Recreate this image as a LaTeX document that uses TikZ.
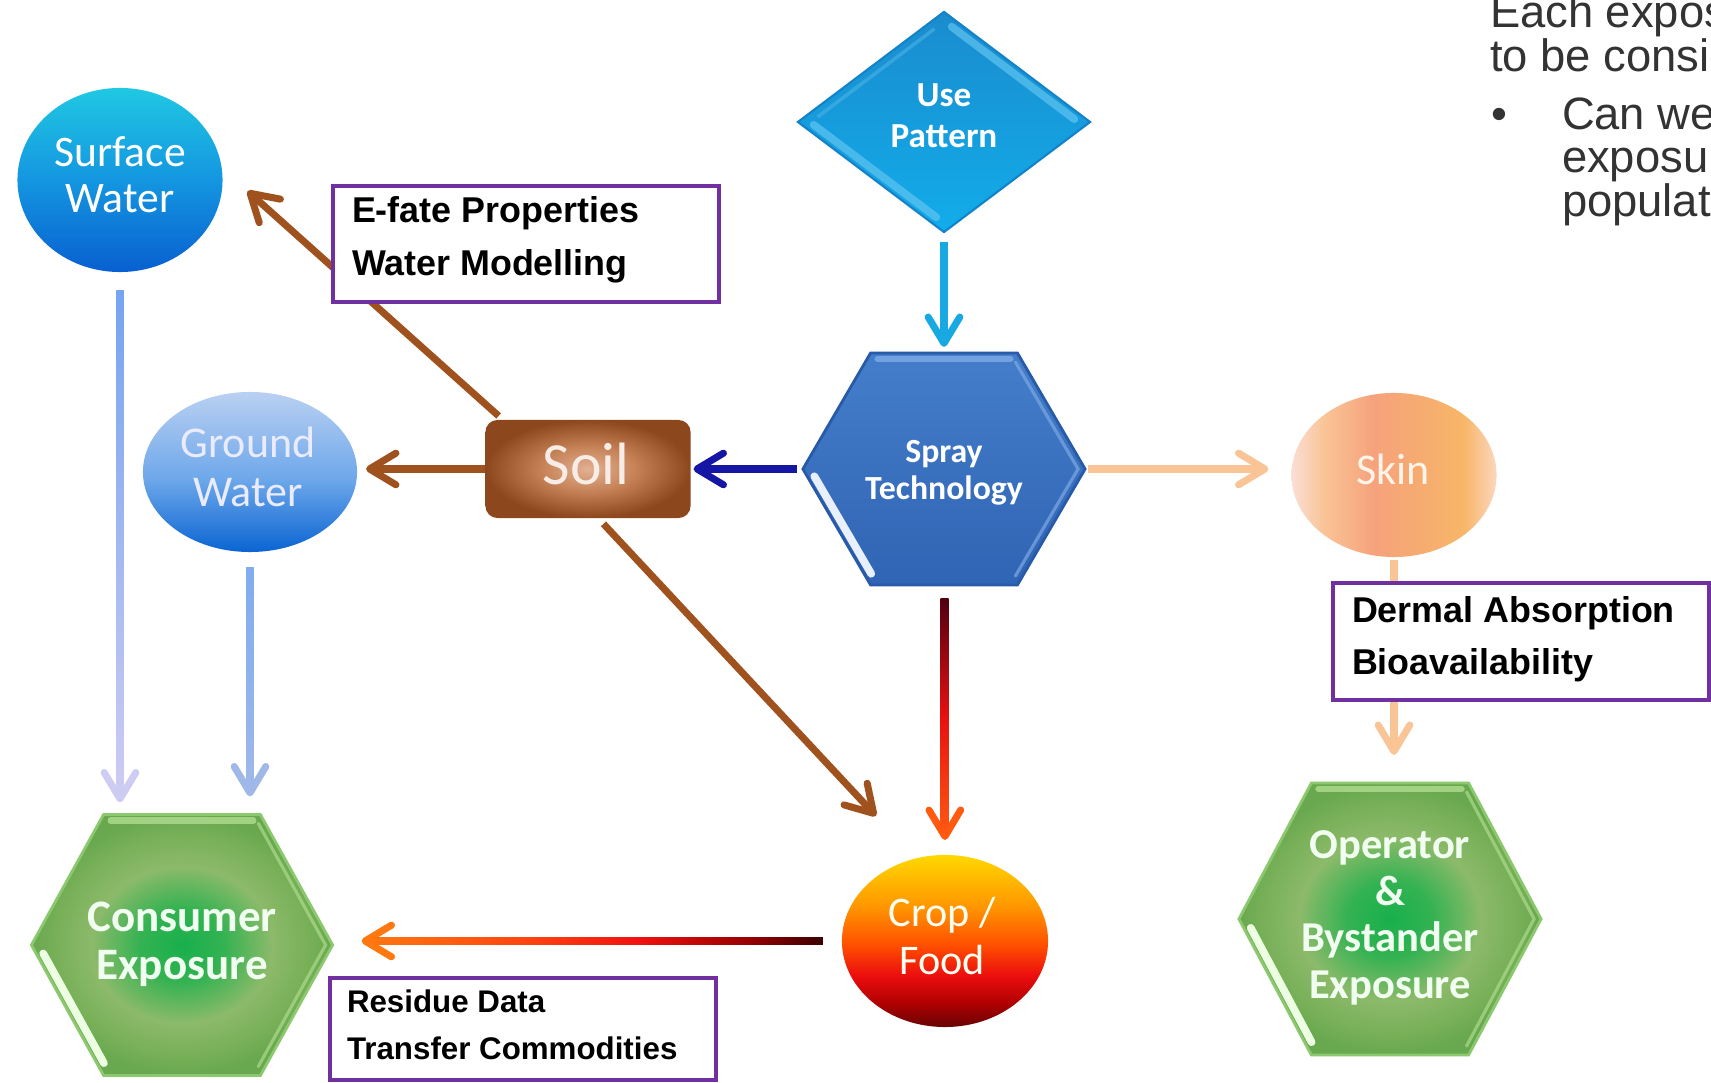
\documentclass[tikz,border=0pt]{standalone}
\usepackage{fontspec}
\setmainfont{Carlito}
\newfontfamily\calfont{Carlito}
\newfontfamily\arialfont{Liberation Sans}
\usetikzlibrary{arrows.meta,shapes.geometric,calc,backgrounds}

% ---------- colours ----------
\definecolor{swA}{RGB}{32,200,226}
\definecolor{swB}{RGB}{20,150,224}
\definecolor{swC}{RGB}{8,96,208}
\definecolor{gwA}{RGB}{186,208,242}
\definecolor{gwB}{RGB}{110,168,234}
\definecolor{gwC}{RGB}{10,100,210}
\definecolor{dmA}{RGB}{26,140,206}
\definecolor{dmB}{RGB}{18,172,234}
\definecolor{dmEdge}{RGB}{20,130,200}
\definecolor{dmHi}{RGB}{96,196,240}
\definecolor{spA}{RGB}{68,126,202}
\definecolor{spB}{RGB}{48,100,180}
\definecolor{spEdge}{RGB}{40,90,170}
\definecolor{spHi}{RGB}{125,168,228}
\definecolor{spLow}{RGB}{232,240,255}
\definecolor{soilA}{RGB}{226,176,146}
\definecolor{soilB}{RGB}{196,128,84}
\definecolor{soilC}{RGB}{140,72,28}
\definecolor{cropA}{RGB}{255,216,0}
\definecolor{cropB}{RGB}{255,150,0}
\definecolor{cropC}{RGB}{255,80,0}
\definecolor{cropD}{RGB}{236,14,14}
\definecolor{cropE}{RGB}{176,0,0}
\definecolor{cropF}{RGB}{104,4,6}
\definecolor{skA}{RGB}{250,222,214}
\definecolor{skB}{RGB}{249,196,150}
\definecolor{skC}{RGB}{246,162,124}
\definecolor{skD}{RGB}{246,172,112}
\definecolor{skE}{RGB}{248,182,104}
\definecolor{skF}{RGB}{251,214,190}
\definecolor{grA}{RGB}{24,176,76}
\definecolor{grB}{RGB}{52,178,82}
\definecolor{grC}{RGB}{140,186,106}
\definecolor{grD}{RGB}{120,176,88}
\definecolor{grE}{RGB}{104,168,78}
\definecolor{grEdge}{RGB}{140,200,110}
\definecolor{grHi}{RGB}{172,218,140}
\definecolor{grLow}{RGB}{236,255,226}
\definecolor{brownarr}{RGB}{160,82,30}
\definecolor{navyarr}{RGB}{22,22,165}
\definecolor{cyanarr}{RGB}{24,168,226}
\definecolor{peacharr}{RGB}{249,196,150}
\definecolor{swline}{RGB}{118,164,240}
\definecolor{swlav}{RGB}{206,204,242}
\definecolor{gwtop}{RGB}{128,172,240}
\definecolor{gwbot}{RGB}{160,184,232}
\definecolor{raT}{RGB}{80,0,16}
\definecolor{raM}{RGB}{232,16,16}
\definecolor{raB}{RGB}{255,90,16}
\definecolor{caL}{RGB}{255,120,16}
\definecolor{caM}{RGB}{255,70,16}
\definecolor{caR}{RGB}{240,16,16}
\definecolor{caD}{RGB}{150,0,0}
\definecolor{caX}{RGB}{58,0,0}
\definecolor{boxpurple}{RGB}{112,48,160}
\definecolor{notegrey}{RGB}{51,51,51}
\definecolor{soiltext}{RGB}{248,236,230}
\definecolor{skintext}{RGB}{255,244,232}

% ---------- shadings ----------
\pgfdeclareverticalshading{swshade}{100bp}{color(0bp)=(swC); color(25bp)=(swC); color(50bp)=(swB); color(75bp)=(swA); color(100bp)=(swA)}
\pgfdeclareverticalshading{gwshade}{100bp}{color(0bp)=(gwC); color(25bp)=(gwC); color(48bp)=(gwB); color(75bp)=(gwA); color(100bp)=(gwA)}
\pgfdeclareverticalshading{dmshade}{100bp}{color(0bp)=(dmB); color(25bp)=(dmB); color(75bp)=(dmA); color(100bp)=(dmA)}
\pgfdeclareverticalshading{spshade}{100bp}{color(0bp)=(spB); color(25bp)=(spB); color(75bp)=(spA); color(100bp)=(spA)}
\pgfdeclareverticalshading{cropshade}{100bp}{color(0bp)=(cropF); color(25bp)=(cropF); color(32bp)=(cropE); color(40bp)=(cropD); color(49bp)=(cropC); color(60bp)=(cropB); color(75bp)=(cropA); color(100bp)=(cropA)}
\pgfdeclarehorizontalshading{skinshade}{100bp}{color(0bp)=(skA); color(25bp)=(skA); color(33bp)=(skB); color(45bp)=(skC); color(57bp)=(skD); color(67bp)=(skE); color(75bp)=(skF); color(100bp)=(skF)}
\pgfdeclareradialshading{greenglow}{\pgfpoint{0bp}{0bp}}{color(0bp)=(grA); color(7bp)=(grB); color(15bp)=(grC); color(21bp)=(grD); color(25bp)=(grE); color(50bp)=(grE)}
\pgfdeclareradialshading{soilglow}{\pgfpoint{0bp}{0bp}}{color(0bp)=(soilA); color(12bp)=(soilB); color(25bp)=(soilC); color(50bp)=(soilC)}
\pgfdeclareverticalshading{redvert}{100bp}{color(0bp)=(raB); color(25bp)=(raB); color(50bp)=(raM); color(75bp)=(raT); color(100bp)=(raT)}
\pgfdeclarehorizontalshading{redhorz}{100bp}{color(0bp)=(caL); color(25bp)=(caL); color(42bp)=(caM); color(55bp)=(caR); color(67bp)=(caD); color(75bp)=(caX); color(100bp)=(caX)}

% hexagon with bevel strips, built on the corners of a named rectangle node
\newcommand\bevelhex[5]{%
  \coordinate (#1W) at (#1.west);
  \coordinate (#1E) at (#1.east);
  \coordinate (#1TL) at ($(#1.north west)!0.24!(#1.north east)$);
  \coordinate (#1TR) at ($(#1.north west)!0.76!(#1.north east)$);
  \coordinate (#1BL) at ($(#1.south west)!0.24!(#1.south east)$);
  \coordinate (#1BR) at ($(#1.south west)!0.76!(#1.south east)$);
  \shade[shading=#2, draw=#3, line width=0.8pt] (#1W) -- (#1TL) -- (#1TR) -- (#1E) -- (#1BR) -- (#1BL) -- cycle;
  \draw[#4, line width=1.8pt, line cap=round, opacity=0.85] ($(#1TL)+(7,6)$) -- ($(#1TR)+(-7,6)$);
  \draw[#4, line width=0.9pt, line cap=round, opacity=0.7] ($(#1TR)+(-2,9)$) -- ($(#1E)+(-7,0)$) -- ($(#1BR)+(-2,-9)$);
  \draw[#5, line width=2.2pt, line cap=round] ($(#1W)!0.08!(#1BL)+(6,-2)$) -- ($(#1W)!0.92!(#1BL)+(6,-2)$);
}

\tikzset{
  base/.style={inner sep=0pt, outer sep=0pt},
  frame/.style={base, rectangle},
  blob/.style={base, ellipse, shade},
  wtxt/.style={base, anchor=base, text=white},
  reg/.style={font=\calfont\fontsize{#1}{#1}\selectfont},
  bld/.style={font=\calfont\bfseries\fontsize{#1}{#1}\selectfont},
  boxt/.style={base, anchor=base west, text=black, font=\arialfont\bfseries\fontsize{#1}{#1}\selectfont},
  note/.style={base, anchor=base west, text=notegrey, font=\arialfont\fontsize{12.9}{12.9}\selectfont},
  infobox/.style={base, rectangle, draw=boxpurple, line width=1.1pt, fill=white},
  arr/.style={line width=2pt, -{Straight Barb[length=7.5pt,width=9pt,round]}},
}

\begin{document}
\begin{tikzpicture}[x=0.01cm, y=-0.01cm]
\useasboundingbox (0,0) rectangle (1711,1083);
\clip (0,0) rectangle (1711,1083);

% ---------- shapes ----------
\node[blob, shading=swshade, minimum width=2.05cm, minimum height=1.84cm] (sw) at (120,180) {};
\node[blob, shading=gwshade, minimum width=2.14cm, minimum height=1.6cm] (gw) at (250,472) {};
\node[frame, minimum width=2.92cm, minimum height=2.2cm] (usep) at (944,122) {};
\node[frame, minimum width=2.82cm, minimum height=2.32cm] (spray) at (944,469) {};
\node[base, rectangle, rounded corners=1.2mm, shade, shading=soilglow, minimum width=2.05cm, minimum height=0.98cm] (soil) at (588,469) {};
\node[blob, shading=cropshade, minimum width=2.06cm, minimum height=1.72cm] (crop) at (945,941) {};
\node[blob, shading=skinshade, minimum width=2.05cm, minimum height=1.64cm] (skin) at (1394,475) {};
\node[frame, minimum width=3.01cm, minimum height=2.61cm] (con) at (182,945) {};
\node[frame, minimum width=3.02cm, minimum height=2.72cm] (op) at (1390,919) {};

\begin{pgfonlayer}{background}
  \fill[white] (0,0) rectangle (1711,1083);
  % Use Pattern diamond
  \shade[shading=dmshade, draw=dmEdge, line width=0.6pt] (usep.west) -- (usep.north) -- (usep.east) -- (usep.south) -- cycle;
  \draw[dmHi, line width=2.2pt, line cap=round, opacity=0.7] ($(usep.north)!0.08!(usep.east)+(-4,6)$) -- ($(usep.north)!0.92!(usep.east)+(-4,6)$);
  \draw[dmHi, line width=2.2pt, line cap=round, opacity=0.7] ($(usep.west)!0.08!(usep.south)+(4,-6)$) -- ($(usep.west)!0.92!(usep.south)+(4,-6)$);
  \draw[dmHi!60!dmA, line width=1pt, opacity=0.7] ($(usep.west)!0.1!(usep.north)+(5,6)$) -- ($(usep.west)!0.9!(usep.north)+(5,6)$);
  % hexagons
  \bevelhex{spray}{spshade}{spEdge}{spHi}{spLow}
  \bevelhex{con}{greenglow}{grEdge}{grHi}{grLow}
  \bevelhex{op}{greenglow}{grEdge}{grHi}{grLow}
\end{pgfonlayer}

% ---------- shape labels ----------
\node[wtxt, reg=12.4] (swT1) at (120,167) {Surface};
\node[wtxt, reg=12.4] (swT2) at (120,213) {Water};
\node[wtxt, reg=12.5, text=white!92!blue] (gwT1) at (248,458) {Ground};
\node[wtxt, reg=12.5, text=white!92!blue] (gwT2) at (248,507) {Water};
\node[wtxt, bld=10] (useT1) at (944,107) {Use};
\node[wtxt, bld=10] (useT2) at (944,148) {Pattern};
\node[wtxt, bld=9.6] (spT1) at (944,463) {Spray};
\node[wtxt, bld=9.6] (spT2) at (944,500) {Technology};
\node[wtxt, reg=17, text=soiltext] (soilT) at (586,485) {Soil};
\node[wtxt, reg=12, text=white!95!yellow] (cropT1) at (942,927) {Crop /};
\node[wtxt, reg=12, text=white!95!yellow] (cropT2) at (942,975) {Food};
\node[wtxt, reg=12.5, text=skintext] (skinT) at (1393,485) {Skin};
\node[wtxt, bld=12.8, text=white!94!green] (conT1) at (182,932) {Consumer};
\node[wtxt, bld=12.8, text=white!94!green] (conT2) at (182,980) {Exposure};
\node[wtxt, bld=12.1, text=white!94!green] (opT1) at (1390,859) {Operator};
\node[wtxt, bld=12.1, text=white!94!green] (opT2) at (1390,906) {\&};
\node[wtxt, bld=12.1, text=white!94!green] (opT3) at (1390,952) {Bystander};
\node[wtxt, bld=12.1, text=white!94!green] (opT4) at (1390,999) {Exposure};

% ---------- connectors ----------
\draw[arr, cyanarr, shorten <=1mm, shorten >=0.6mm] (usep.south) -- (spray.north);
\draw[arr, navyarr, shorten <=0.6mm, shorten >=0.3mm] (spray.west) -- (soil.east);
\draw[arr, brownarr, shorten >=0.9mm] (soil.west) -- (soil.west -| gw.east);
\draw[arr, brownarr, shorten <=0.6mm] (soil.150) -- ($(sw.east)+(25,11)$);
\draw[arr, brownarr, shorten <=0.8mm] ($(soil.south)+(10,0)$) -- ($(crop.north)+(-69,-39)$);
\draw[arr, peacharr, shorten <=0.3mm, shorten >=2.3mm] (spray.east) -- (spray.east -| skin.west);
\draw[arr, peacharr, shorten <=0.3mm, shorten >=2.8mm] (skin.south) -- (skin.south |- op.north);

% graded connectors: the arrow in its end colour, the shaft shaded over it
\draw[arr, raB, shorten <=1.3mm, shorten >=1.5mm] (spray.south) -- (crop.north);
\shade[shading=redvert] ($(spray.south)+(-3.5,13)$) rectangle ($(crop.north)+(3.5,-19)$);
\draw[arr, caL, shorten <=1.9mm, shorten >=2.9mm] (crop.west) -- (crop.west -| con.east);
\shade[shading=redhorz] ($(crop.west -| con.east)+(33,-3.5)$) rectangle ($(crop.west)+(-19,3.5)$);
\draw[arr, swlav, shorten <=1.8mm, shorten >=1.2mm] (sw.south) -- (sw.south |- con.north);
\shade[top color=swline, bottom color=swlav] ($(sw.south)+(-3.5,18)$) rectangle ($(sw.south |- con.north)+(3.5,-16)$);
\draw[arr, gwbot, shorten <=1.5mm, shorten >=1.8mm] (gw.south) -- (gw.south |- con.north);
\shade[top color=gwtop, bottom color=gwbot] ($(gw.south)+(-3.5,15)$) rectangle ($(gw.south |- con.north)+(3.5,-22)$);

% ---------- annotation boxes ----------
\node[infobox, minimum width=3.86cm, minimum height=1.16cm] (efate) at (526,244) {};
\node[boxt=10.2] (efateT1) at (352,223) {E-fate Properties};
\node[boxt=10.2] (efateT2) at (352,276) {Water Modelling};
\node[infobox, minimum width=3.76cm, minimum height=1.17cm] (dermal) at (1521,641.5) {};
\node[boxt=10.2] (dermalT1) at (1352,623) {Dermal Absorption};
\node[boxt=10.2] (dermalT2) at (1352,675) {Bioavailability};
\node[infobox, minimum width=3.86cm, minimum height=1.02cm] (residue) at (523,1029) {};
\node[boxt=8.9] (residueT1) at (347,1013) {Residue Data};
\node[boxt=8.9] (residueT2) at (347,1060) {Transfer Commodities};

% ---------- side note ----------
\node[note] (noteA) at (1490,28) {Each exposure};
\node[note] (noteB) at (1490,72) {to be considered};
\node[note] (noteC) at (1491,130) {•};
\node[note] (noteD) at (1562,130) {Can we};
\node[note] (noteE) at (1562,173) {exposure};
\node[note] (noteF) at (1562,217) {population};
\end{tikzpicture}
\end{document}
